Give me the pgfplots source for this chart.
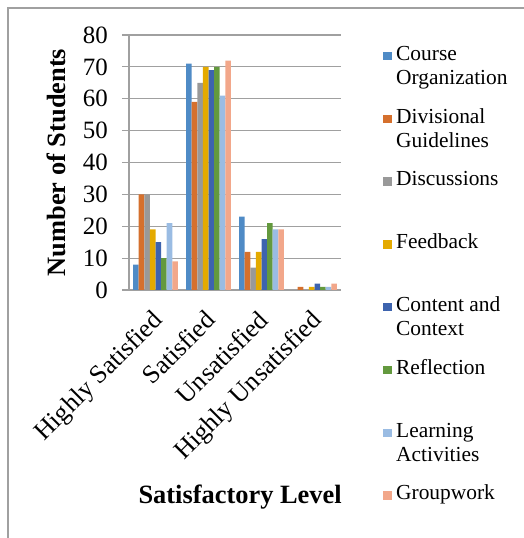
\documentclass[border=0pt]{standalone}
\usepackage{pgfplots}
\pgfplotsset{compat=1.18}
\usepackage{fontspec}
\setmainfont{Liberation Serif}
\definecolor{cA}{RGB}{79,139,198}
\definecolor{cB}{RGB}{213,112,45}
\definecolor{cC}{RGB}{153,153,153}
\definecolor{cD}{RGB}{228,170,0}
\definecolor{cE}{RGB}{61,99,174}
\definecolor{cF}{RGB}{99,153,62}
\definecolor{cG}{RGB}{154,188,227}
\definecolor{cH}{RGB}{242,167,138}
\definecolor{gridc}{RGB}{160,160,160}
\definecolor{framec}{RGB}{160,160,160}
\newcommand\legtxt[1]{\parbox[t]{128bp}{\strut #1}}
\begin{document}
\begin{tikzpicture}
\useasboundingbox (0,0) rectangle (524bp,538bp);
\draw[framec, line width=1.3bp] (8bp,-2bp) -- (8bp,530bp) -- (530bp,530bp);
\begin{axis}[
  at={(129bp,248bp)}, anchor=south west,
  scale only axis, width=212bp, height=255bp,
  xmin=-0.5, xmax=3.5, ymin=0, ymax=80,
  ybar=0pt, bar width=5.6bp,
  separate axis lines,
  axis x line*=bottom, axis y line*=left,
  axis line style={draw=gridc, line width=1.2bp, -},
  xtick={0,1,2,3},
  xticklabels={Highly Satisfied, Satisfied, Unsatisfied, Highly Unsatisfied},
  x tick style={draw=none},
  major x tick style={draw=none},
  ytick={0,10,...,80},
  tick align=outside, tick pos=left,
  major tick length=7bp,
  y tick style={draw=gridc, line width=1.2bp},
  ymajorgrids, grid style={draw=gridc, line width=1.2bp},
  /pgf/number format/assume math mode=true,
  yticklabel style={font=\fontsize{25}{28}\selectfont, inner sep=0pt, xshift=-14bp},
  xticklabel style={font=\fontsize{26}{29}\selectfont, rotate=45, anchor=north east, inner sep=0pt, xshift=-11.3bp, yshift=-5.2bp},
  ylabel={Number of Students},
  ylabel style={font=\bfseries\fontsize{26.5}{30}\selectfont, at={(axis description cs:-0.344,0.5)}, anchor=center, rotate=0},
  xlabel={Satisfactory Level},
  xlabel style={font=\bfseries\fontsize{26.5}{30}\selectfont, at={(axis description cs:0.524,-0.838)}, anchor=base},
  legend style={draw=none, fill=none, inner sep=0pt, at={(axis description cs:1.198,0.9686)}, anchor=north west,
    font=\fontsize{21.5}{24.3}\selectfont, column sep=4.5bp, row sep=45.8bp,
    nodes={inner sep=0pt, anchor=base west, text height=17bp, text depth=0pt}},
  legend cell align=left,
  legend image code/.code={\fill[#1,draw=none] (0bp,0bp) rectangle (8.5bp,8.5bp);},
  every axis plot/.append style={draw=none},
]
\addplot[fill=cA] coordinates {(0,8) (1,71) (2,23) (3,0)};
\addplot[fill=cB] coordinates {(0,30) (1,59) (2,12) (3,1)};
\addplot[fill=cC] coordinates {(0,30) (1,65) (2,7) (3,0)};
\addplot[fill=cD] coordinates {(0,19) (1,70) (2,12) (3,1)};
\addplot[fill=cE] coordinates {(0,15) (1,69) (2,16) (3,2)};
\addplot[fill=cF] coordinates {(0,10) (1,70) (2,21) (3,1)};
\addplot[fill=cG] coordinates {(0,21) (1,61) (2,19) (3,1)};
\addplot[fill=cH] coordinates {(0,9) (1,72) (2,19) (3,2)};
\legend{\legtxt{Course\\Organization},\legtxt{Divisional\\Guidelines},\legtxt{Discussions},\legtxt{Feedback},\legtxt{Content and\\Context},\legtxt{Reflection},\legtxt{Learning\\Activities},\legtxt{Groupwork}}
\end{axis}
\end{tikzpicture}
\end{document}
